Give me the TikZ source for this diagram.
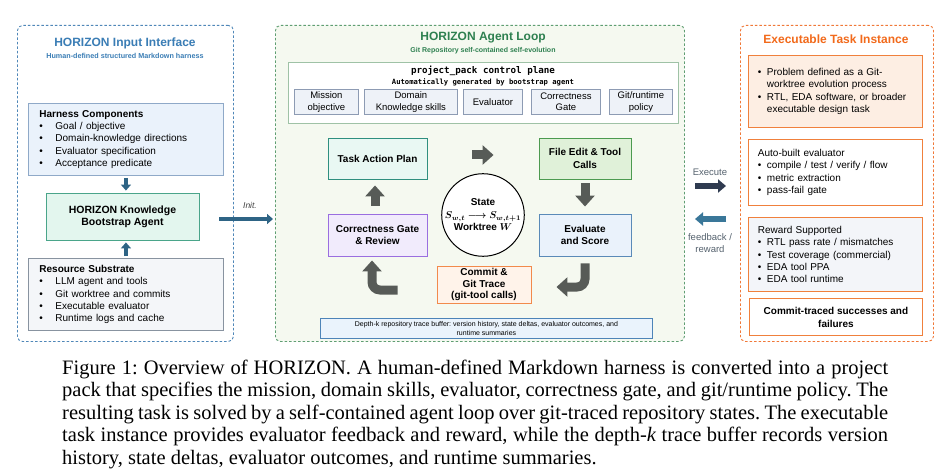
\documentclass[tikz,border=0pt]{standalone}
\usepackage{fontspec}
\usepackage{bm}
\setmainfont{Liberation Serif}
\newfontfamily\arialf{Liberation Sans}
\newfontfamily\monof{DejaVu Sans Mono}
\usetikzlibrary{arrows.meta,calc}
\frenchspacing
\newcommand\myfs[2]{\fontsize{#1}{#2}\selectfont}
\definecolor{panelblue}{HTML}{4F87B8}
\definecolor{titleblue}{HTML}{3A7DB5}
\definecolor{harnessf}{HTML}{EAF2FB}
\definecolor{harnessb}{HTML}{8FA9C8}
\definecolor{bootf}{HTML}{E3F6EE}
\definecolor{bootb}{HTML}{4AA58A}
\definecolor{resf}{HTML}{F4F6F9}
\definecolor{resb}{HTML}{8893A0}
\definecolor{panelgreen}{HTML}{5F9E72}
\definecolor{panelgreenf}{HTML}{F5F9F0}
\definecolor{titlegreen}{HTML}{2E8050}
\definecolor{ctrlb}{HTML}{9FC2A6}
\definecolor{smallf}{HTML}{EEF2F8}
\definecolor{smallb}{HTML}{8D9BB3}
\definecolor{planf}{HTML}{E9F8F3}
\definecolor{planb}{HTML}{2F8F7F}
\definecolor{filef}{HTML}{E0F1D9}
\definecolor{fileb}{HTML}{4C9A50}
\definecolor{evalf}{HTML}{EAF2FB}
\definecolor{evalb}{HTML}{5A8AB8}
\definecolor{gatef}{HTML}{F1EBFC}
\definecolor{gateb}{HTML}{9A6EE0}
\definecolor{commitf}{HTML}{FFF3EA}
\definecolor{commitb}{HTML}{F28A4C}
\definecolor{bufff}{HTML}{EAF3FC}
\definecolor{buffb}{HTML}{4D84B8}
\definecolor{panelorange}{HTML}{F07838}
\definecolor{titleorange}{HTML}{F26A1B}
\definecolor{taskf}{HTML}{FDEEE3}
\definecolor{taskb}{HTML}{F0803C}
\definecolor{rewf}{HTML}{F3F5F9}
\definecolor{garrow}{HTML}{575B57}
\definecolor{steelarrow}{HTML}{2E6485}
\definecolor{execarrow}{HTML}{2F3B50}
\definecolor{fbarrow}{HTML}{3A7799}
\definecolor{lblgray}{HTML}{55626E}
\tikzset{
  panel/.style={draw, dashed, dash pattern=on 2.5pt off 2pt, line width=0.9pt, rounded corners=5pt, anchor=north west, inner sep=0pt},
  box/.style={draw, line width=0.9pt, inner sep=0pt, align=center, font=\arialf\bfseries\myfs{10}{12}},
  listbox/.style={draw, line width=0.9pt, anchor=north west, inner ysep=0pt, align=left, font=\arialf\myfs{10}{12.2}},
  smallbox/.style={draw=smallb, fill=smallf, line width=0.8pt, inner sep=0pt, align=center, anchor=north west, minimum height=25pt, font=\arialf\myfs{9.5}{11.5}},
  blk/.style={line width=9pt, draw=garrow, -{Triangle[length=11pt,width=19pt]}},
  thinblk/.style={line width=4.5pt, draw=steelarrow, -{Triangle[length=6pt,width=10pt]}},
  lbl/.style={inner sep=0pt, font=\arialf},
  capline/.style={anchor=base west, inner sep=0pt, font=\myfs{20.5}{22.5}},
}
\newcommand\bl{\makebox[16pt][l]{\textbullet}}
\newcommand\br{\makebox[9pt][l]{\textbullet}}
\begin{document}
\begin{tikzpicture}[x=1pt,y=-1pt]
\useasboundingbox[fill=white] (0,0) rectangle (941,470);

% ---------------- left panel
\node[panel, draw=panelblue, fill=white, minimum width=216pt, minimum height=316pt] (inpanel) at (17,25) {};
\node[lbl, text=titleblue, font=\arialf\bfseries\myfs{12}{14}] (intitle) at (125,43) {HORIZON Input Interface};
\node[lbl, text=titleblue, font=\arialf\bfseries\myfs{7.2}{9}] (insub) at (125,56) {Human-defined structured Markdown harness};

\node[listbox, draw=harnessb, fill=harnessf, minimum width=195pt, minimum height=72pt, text width=173pt, inner xsep=11pt] (harness) at (28,103)
 {\textbf{Harness Components}\\
  \bl Goal / objective\\
  \bl Domain-knowledge directions\\
  \bl Evaluator specification\\
  \bl Acceptance predicate};
\node[box, draw=bootb, fill=bootf, minimum width=153pt, minimum height=47pt, font=\arialf\bfseries\myfs{10.5}{12}] (boot) at (122.5,216.5)
 {HORIZON Knowledge\\Bootstrap Agent};
\node[listbox, draw=resb, fill=resf, minimum width=195pt, minimum height=72pt, text width=173pt, inner xsep=11pt] (res) at (28,258)
 {\textbf{Resource Substrate}\\
  \bl LLM agent and tools\\
  \bl Git worktree and commits\\
  \bl Executable evaluator\\
  \bl Runtime logs and cache};
\draw[thinblk, line width=4pt] ([yshift=-2pt]harness.south) -- ([yshift=2pt]harness.south |- boot.north);
\draw[thinblk, line width=4pt] ([yshift=2pt]res.north) -- ([yshift=-2pt]res.north |- boot.south);

% ---------------- middle panel
\node[panel, draw=panelgreen, fill=panelgreenf, minimum width=409pt, minimum height=316pt] (looppanel) at (275,25) {};
\node[lbl, text=titlegreen, font=\arialf\bfseries\myfs{12}{14}] (looptitle) at (483,38) {HORIZON Agent Loop};
\node[lbl, text=titlegreen, font=\arialf\bfseries\myfs{7}{9}] (loopsub) at (483,51) {Git Repository self-contained self-evolution};

\node[draw=ctrlb, fill=white, line width=0.9pt, anchor=north west, minimum width=390pt, minimum height=61pt, inner sep=0pt] (ctrl) at (288,62) {};
\node[lbl, font=\monof\bfseries\myfs{9.2}{11}] (ctrltitle) at (483,71) {project\_pack control plane};
\node[lbl, font=\monof\bfseries\myfs{7.2}{9}] (ctrlsub) at (483,82) {Automatically generated by bootstrap agent};
\node[smallbox, minimum width=64pt] (mission) at (294,89) {Mission\\objective};
\node[smallbox, minimum width=93pt] (domain) at (364,89) {Domain\\Knowledge skills};
\node[smallbox, minimum width=59pt] (evaluator) at (463,89) {Evaluator};
\node[smallbox, minimum width=69pt] (cgate) at (531,89) {Correctness\\Gate};
\node[smallbox, minimum width=63pt] (gitpol) at (609,89) {Git/runtime\\policy};

\node[box, draw=planb, fill=planf, minimum width=99pt, minimum height=41pt] (plan) at (377.5,158.5) {Task Action Plan};
\node[box, draw=fileb, fill=filef, minimum width=92pt, minimum height=41pt, font=\arialf\bfseries\myfs{10}{12.7}] (file) at (585,158.5) {File Edit \& Tool\\Calls};
\node[box, draw=evalb, fill=evalf, minimum width=92pt, minimum height=42pt] (eval) at (585,235) {Evaluate\\and Score};
\node[box, draw=gateb, fill=gatef, minimum width=99pt, minimum height=42pt] (gate) at (377.5,235) {Correctness Gate\\\& Review};
\node[box, draw=commitb, fill=commitf, minimum width=94pt, minimum height=37pt, font=\arialf\bfseries\myfs{10}{11.7}] (commit) at (484,284.5) {Commit \&\\Git Trace\\(git-tool calls)};
\node[circle, draw=black, fill=white, line width=1pt, minimum size=74pt, inner sep=0pt, align=center, font=\arialf\bfseries\myfs{10}{12}] (state) at (483,215)
 {State\\[1pt]$\bm{S_{w,t}\longrightarrow S_{w,t+1}}$\\Worktree $\bm{W}$};
\node[draw=buffb, fill=bufff, line width=0.8pt, anchor=north west, minimum width=332pt, minimum height=20pt, inner sep=0pt, align=center, font=\arialf\myfs{7}{8.3}] (buffer) at (320,318)
 {Depth-k repository trace buffer: version history, state deltas, evaluator outcomes, and\\runtime summaries};

\draw[blk] ([xshift=45pt,yshift=3.5pt]plan.east) -- ([xshift=-45pt,yshift=3.5pt]file.west);
\draw[blk] ([yshift=-4pt]file.south) -- ([yshift=7pt]eval.north);
\draw[blk] ([xshift=-2.5pt,yshift=8pt]gate.north) -- ([xshift=-2.5pt,yshift=-6pt]plan.south);
\draw[blk, rounded corners=8pt] ([yshift=-7pt]eval.south) |- ([xshift=25pt,yshift=-2.5pt]commit.east);
\draw[blk, rounded corners=8pt] ([xshift=-39pt,yshift=-5.5pt]commit.west) -| ([xshift=-5.5pt,yshift=-4pt]gate.south);

% ---------------- init arrow
\coordinate (initS) at (219,219);
\draw[thinblk] (initS) -- ([xshift=-2pt]initS -| looppanel.west);
\node[lbl, text=black!75, font=\arialf\itshape\myfs{8.5}{10}] (initlbl) at (250,205) {Init.};

% ---------------- right panel
\node[panel, draw=panelorange, fill=white, minimum width=193pt, minimum height=316pt] (taskpanel) at (740,25) {};
\node[lbl, text=titleorange, font=\arialf\bfseries\myfs{12}{14}] (tasktitle) at (836,39) {Executable Task Instance};
\node[listbox, draw=taskb, fill=taskf, minimum width=174pt, minimum height=72pt, text width=155pt, inner xsep=9.5pt, font=\arialf\myfs{10}{12.4}] (prob) at (748,55)
 {\br Problem defined as a Git-\\
  \hspace*{9pt}worktree evolution process\\
  \br RTL, EDA software, or broader\\
  \hspace*{9pt}executable design task};
\node[listbox, draw=taskb, fill=white, minimum width=174pt, minimum height=66pt, text width=155pt, inner xsep=9.5pt] (autoeval) at (748,139)
 {Auto-built evaluator\\
  \br compile / test / verify / flow\\
  \br metric extraction\\
  \br pass-fail gate};
\node[listbox, draw=taskb, fill=rewf, minimum width=174pt, minimum height=74pt, text width=155pt, inner xsep=9.5pt] (reward) at (748,217)
 {Reward Supported\\
  \br RTL pass rate / mismatches\\
  \br Test coverage (commercial)\\
  \br EDA tool PPA\\
  \br EDA tool runtime};
\node[box, draw=taskb, fill=white, anchor=north west, minimum width=173pt, minimum height=37pt, font=\arialf\bfseries\myfs{10}{13}] (traced) at (749,298)
 {Commit-traced successes and\\failures};

% ---------------- execute / feedback
\coordinate (exS) at (695,186);
\coordinate (exE) at (726,186);
\coordinate (fbS) at (726,219);
\coordinate (fbE) at (695,219);
\draw[line width=6pt, draw=execarrow, -{Triangle[length=8pt,width=13pt]}] (exS) -- (exE);
\draw[line width=6pt, draw=fbarrow, -{Triangle[length=8pt,width=13pt]}] (fbS) -- (fbE);
\node[lbl, text=lblgray, font=\arialf\myfs{9.5}{11}] (exlbl) at (710,172) {Execute};
\node[lbl, text=lblgray, font=\arialf\myfs{9.5}{11.5}, align=center] (fblbl) at (710,243) {feedback /\\reward};

% ---------------- caption
\node[capline] (cap1) at (62,374) {\hbox to 826pt{Figure 1: Overview of HORIZON. A human-defined Markdown harness is converted into a project}};
\node[capline] (cap2) at (62,396.5) {\hbox to 826pt{pack that specifies the mission, domain skills, evaluator, correctness gate, and git/runtime policy. The}};
\node[capline] (cap3) at (62,419) {\hbox to 826pt{resulting task is solved by a self-contained agent loop over git-traced repository states. The executable}};
\node[capline] (cap4) at (62,441.5) {\hbox to 826pt{task instance provides evaluator feedback and reward, while the depth-\textit{k} trace buffer records version}};
\node[capline] (cap5) at (62,464) {history, state deltas, evaluator outcomes, and runtime summaries.};
\end{tikzpicture}
\end{document}
